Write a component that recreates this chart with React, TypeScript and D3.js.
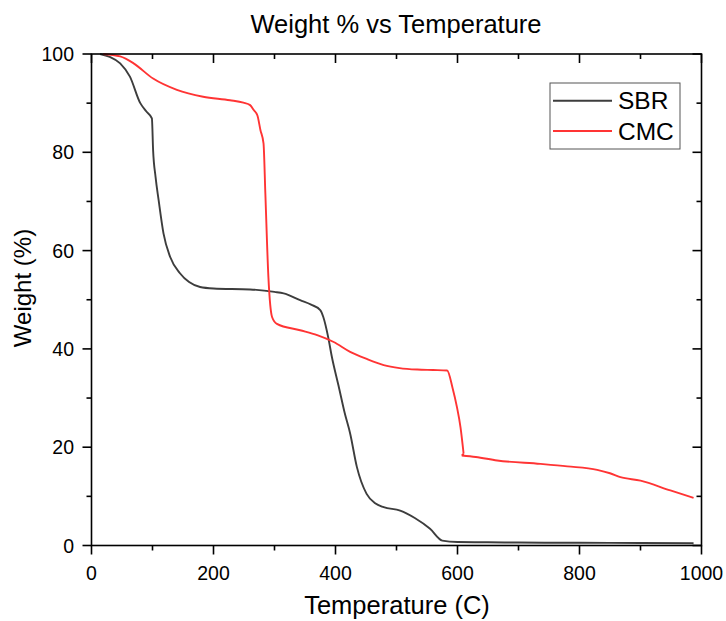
import React from "react";
import * as d3 from "d3";

const sbrTemp = [14, 30, 47, 63, 80, 90, 99, 101, 105, 110, 118, 129, 145, 160, 178, 200, 260, 300, 315, 342, 360, 375, 380, 388, 394, 405, 415, 424, 435, 451, 465, 479, 506, 530, 555, 575, 600, 650, 700, 800, 900, 987];
const sbrWeight = [100, 99.4, 98.1, 95.4, 90.0, 88.3, 86.9, 80.4, 75, 70.3, 63.5, 58.7, 55.4, 53.6, 52.6, 52.3, 52.1, 51.6, 51.3, 49.9, 49.0, 47.9, 46.5, 42.4, 38.4, 32.5, 27, 22.8, 16, 10.5, 8.6, 7.8, 7.1, 5.6, 3.4, 1.0, 0.7, 0.65, 0.6, 0.55, 0.5, 0.47];

const cmcTemp = [19, 47, 69, 101, 140, 183, 227, 249, 260, 266, 272, 277, 282, 285, 290, 296, 304, 342, 370, 397, 424, 450, 479, 505, 534, 560, 583, 592, 599, 605, 610, 607, 630, 665, 736, 780, 829, 850, 867, 900, 949, 987];
const cmcWeight = [100, 99.5, 98.1, 95.0, 92.7, 91.3, 90.6, 90.1, 89.6, 88.6, 87.5, 84.5, 81.8, 71.6, 54.6, 46.5, 45.1, 43.8, 42.8, 41.4, 39.4, 38.0, 36.7, 36.1, 35.8, 35.7, 35.6, 32, 28.2, 24, 18.7, 18.3, 18.0, 17.3, 16.6, 16.1, 15.4, 14.7, 13.9, 13.2, 11.2, 9.7];

const xTicks = [0, 200, 400, 600, 800, 1000];
const xMinor = [100, 300, 500, 700, 900];
const yTicks = [0, 20, 40, 60, 80, 100];
const yMinor = [10, 30, 50, 70, 90];

const seriesNames = ["SBR", "CMC"];
const seriesColors = ["#3d3d3d", "#ff3434"];

export default function App() {
  const left = 91.5, right = 701.5, top = 54, bottom = 545.5;
  const x = d3.scaleLinear().domain([0, 1000]).range([left, right]);
  const y = d3.scaleLinear().domain([0, 100]).range([bottom, top]);
  const line = d3
    .line<[number, number]>()
    .x((d) => x(d[0]))
    .y((d) => y(d[1]))
    .curve(d3.curveMonotoneX);
  const sbr = sbrTemp.map((t, i) => [t, sbrWeight[i]] as [number, number]);
  const cmc = cmcTemp.map((t, i) => [t, cmcWeight[i]] as [number, number]);
  // split CMC where temperature steps back (small hook after the second drop)
  const splitAt = cmc.findIndex((d, i) => i > 0 && d[0] < cmc[i - 1][0]);
  const cmcA = cmc.slice(0, splitAt);
  const cmcB = cmc.slice(splitAt - 1, splitAt + 1);
  const cmcC = cmc.slice(splitAt);
  const hook = d3.line<[number, number]>().x((d) => x(d[0])).y((d) => y(d[1]));
  const font = "'Liberation Sans', Arial, sans-serif";
  const axisW = 1.6;
  const lw = 1.9;
  return (
    <div style={{ position: "fixed", left: 0, top: 0 }}>
      <svg width={726} height={621} style={{ display: "block", background: "#fff" }} fontFamily={font}>
        <text x={396} y={33} textAnchor="middle" fontSize={25.5} fill="#000">Weight % vs Temperature</text>
        {/* curves */}
        <path d={line(sbr) || ""} fill="none" stroke={seriesColors[0]} strokeWidth={lw} strokeLinejoin="round" />
        <path d={(line(cmcA) || "") + (hook(cmcB) || "") + (line(cmcC) || "")} fill="none" stroke={seriesColors[1]} strokeWidth={lw} strokeLinejoin="round" />
        {/* frame */}
        <rect x={left} y={top} width={right - left} height={bottom - top} fill="none" stroke="#000" strokeWidth={axisW} />
        {/* bottom ticks */}
        {xTicks.map((t) => (
          <g key={"xb" + t}>
            <line x1={x(t)} x2={x(t)} y1={bottom} y2={bottom + 9} stroke="#000" strokeWidth={axisW} />
            <line x1={x(t)} x2={x(t)} y1={top} y2={top + 9} stroke="#000" strokeWidth={axisW} />
            <text x={x(t)} y={580} textAnchor="middle" fontSize={19.5} fill="#000">{t}</text>
          </g>
        ))}
        {xMinor.map((t) => (
          <g key={"xm" + t}>
            <line x1={x(t)} x2={x(t)} y1={bottom} y2={bottom + 5} stroke="#000" strokeWidth={axisW} />
            <line x1={x(t)} x2={x(t)} y1={top} y2={top + 5} stroke="#000" strokeWidth={axisW} />
          </g>
        ))}
        {yTicks.map((t) => (
          <g key={"yt" + t}>
            <line x1={left - 9} x2={left} y1={y(t)} y2={y(t)} stroke="#000" strokeWidth={axisW} />
            <line x1={right - 9} x2={right} y1={y(t)} y2={y(t)} stroke="#000" strokeWidth={axisW} />
            <text x={74} y={y(t) + 7} textAnchor="end" fontSize={19.5} fill="#000">{t}</text>
          </g>
        ))}
        {yMinor.map((t) => (
          <g key={"ym" + t}>
            <line x1={left - 5} x2={left} y1={y(t)} y2={y(t)} stroke="#000" strokeWidth={axisW} />
            <line x1={right - 5} x2={right} y1={y(t)} y2={y(t)} stroke="#000" strokeWidth={axisW} />
          </g>
        ))}
        {/* axis titles */}
        <text x={397} y={614} textAnchor="middle" fontSize={25.5} fill="#000">Temperature (C)</text>
        <text transform={`translate(31,288) rotate(-90)`} textAnchor="middle" fontSize={24} fill="#000">Weight (%)</text>
        {/* legend */}
        <rect x={550} y={83} width={130} height={66} fill="#fff" stroke="#555" strokeWidth={1} />
        {seriesNames.map((n, i) => (
          <g key={n}>
            <line x1={553} x2={612} y1={100.7 + i * 30.3} y2={100.7 + i * 30.3} stroke={seriesColors[i]} strokeWidth={lw} />
            <text x={618} y={108.5 + i * 31.5} fontSize={24.5} fill="#000">{n}</text>
          </g>
        ))}
      </svg>
    </div>
  );
}
